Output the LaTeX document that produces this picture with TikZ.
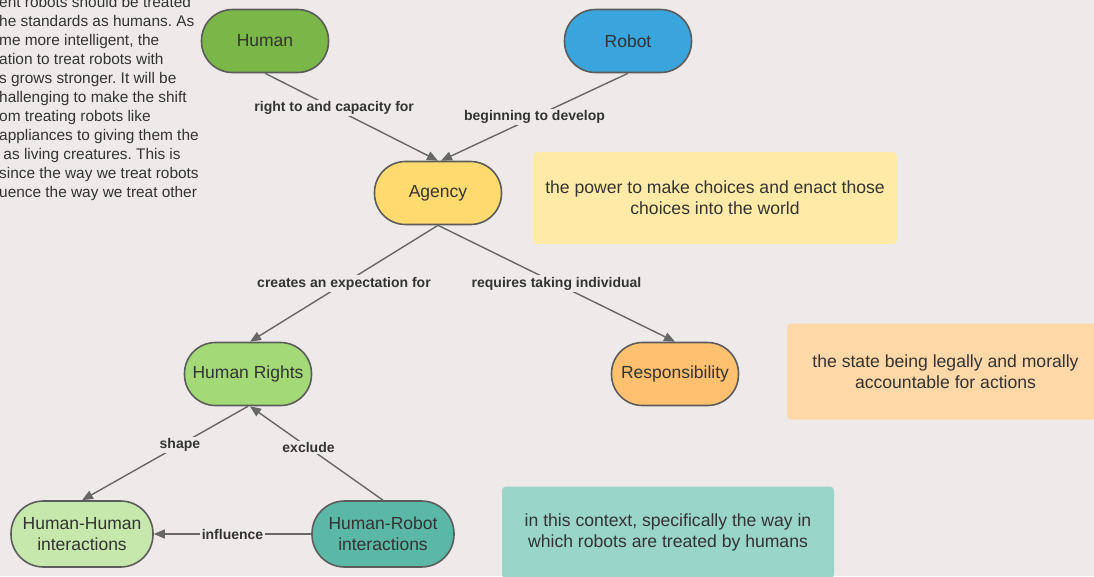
\documentclass[tikz,border=0pt]{standalone}
\usepackage{fontspec}
\setmainfont{Liberation Sans}
\usetikzlibrary{arrows.meta}
\frenchspacing

\definecolor{bg}{HTML}{EFEAEA}
\definecolor{txt}{HTML}{333333}
\definecolor{rim}{HTML}{5C5C5C}
\definecolor{wire}{HTML}{676767}
\definecolor{cHuman}{HTML}{7AB648}
\definecolor{cRobot}{HTML}{3AA5DC}
\definecolor{cAgency}{HTML}{FFDA6E}
\definecolor{cRights}{HTML}{A3D977}
\definecolor{cResp}{HTML}{FFC170}
\definecolor{cHH}{HTML}{C7E8AC}
\definecolor{cHR}{HTML}{5BB8A6}
\definecolor{nYellow}{HTML}{FFEAA7}
\definecolor{nOrange}{HTML}{FFD8A8}
\definecolor{nTeal}{HTML}{9AD5CA}

\begin{document}
\begin{tikzpicture}[x=1pt,y=-1pt,
  concept/.style={draw=rim, line width=1.6pt, rounded corners=31pt,
    minimum width=127pt, minimum height=63pt, inner sep=0pt,
    font=\fontsize{17.5}{21}\selectfont, text=txt, align=center},
  concept2/.style={concept, rounded corners=32.5pt, minimum width=142pt, minimum height=66pt},
  note/.style={rounded corners=4pt, inner sep=0pt, font=\fontsize{17.6}{21}\selectfont,
    text=txt, align=center},
  link/.style={draw=wire, line width=1.4pt, -{Triangle[length=11pt,width=9pt]}},
  lbl/.style={fill=bg, inner sep=1.5pt, text=txt,
    font=\bfseries\fontsize{14}{16}\selectfont},
  para/.style={anchor=base west, inner sep=0pt, text=txt,
    font=\fontsize{15.4}{19}\selectfont}]

% canvas
\fill[bg] (0,0) rectangle (1094,576);
\useasboundingbox (0,0) rectangle (1094,576);

% explanatory notes
\begin{scope}
\clip (0,0) rectangle (1094,576);
\node[note, fill=nYellow, minimum width=364pt, minimum height=92pt] (defAgency) at (715,198)
  {the power to make choices and enact those\\choices into the world};
\node[note, fill=nOrange, minimum width=317pt, minimum height=96pt] (defResp) at (945.5,371.5)
  {the state being legally and morally\\accountable for actions};
\node[note, fill=nTeal, minimum width=332pt, minimum height=92pt] (defContext) at (668,532.5)
  {in this context, specifically the way in\\which robots are treated by humans};

% paragraph running in from the left edge
\foreach \t [count=\i] in {
  {ent robots should be treated},
  {he standards as humans. As},
  {me more intelligent, the},
  {ation to treat robots with},
  {s grows stronger. It will be},
  {hallenging to make the shift},
  {om treating robots like},
  {appliances to giving them the},
  {\ as living creatures. This is},
  {since the way we treat robots},
  {uence the way we treat other}}
  \node[para] (p\i) at (-1, {7+19*(\i-1)}) {\t};
\end{scope}

% concepts
\node[concept, fill=cHuman]  (human)  at (265,41)  {Human};
\node[concept, fill=cRobot]  (robot)  at (628,41)  {Robot};
\node[concept, fill=cAgency] (agency) at (438,193) {Agency};
\node[concept, fill=cRights] (rights) at (248,374) {Human Rights};
\node[concept, fill=cResp]   (resp)   at (675,374) {Responsibility};
\node[concept2, fill=cHH]    (hh)     at (82,534)  {Human-Human\\interactions};
\node[concept2, fill=cHR]    (hr)     at (383,534) {Human-Robot\\interactions};

% relations
\draw[link] (human.south) -- node[lbl, pos=0.40] (l1) {right to and capacity for} (agency.north);
\draw[link] (robot.south) -- node[lbl, pos=0.50] (l2) {beginning to develop} ([xshift=3pt]agency.north);
\draw[link] (agency.south) -- node[lbl, pos=0.50] (l3) {creates an expectation for} ([xshift=2pt]rights.north);
\draw[link] (agency.south) -- node[lbl, pos=0.50] (l4) {requires taking individual} (resp.north);
\draw[link] (rights.south) -- node[lbl, pos=0.41] (l5) {shape} (hh.north);
\draw[link] (hr.north) -- node[lbl, pos=0.56] (l6) {exclude} ([xshift=2pt]rights.south);
\draw[link] (hr.west) -- node[lbl, pos=0.50] (l7) {influence} (hh.east);

\end{tikzpicture}
\end{document}
